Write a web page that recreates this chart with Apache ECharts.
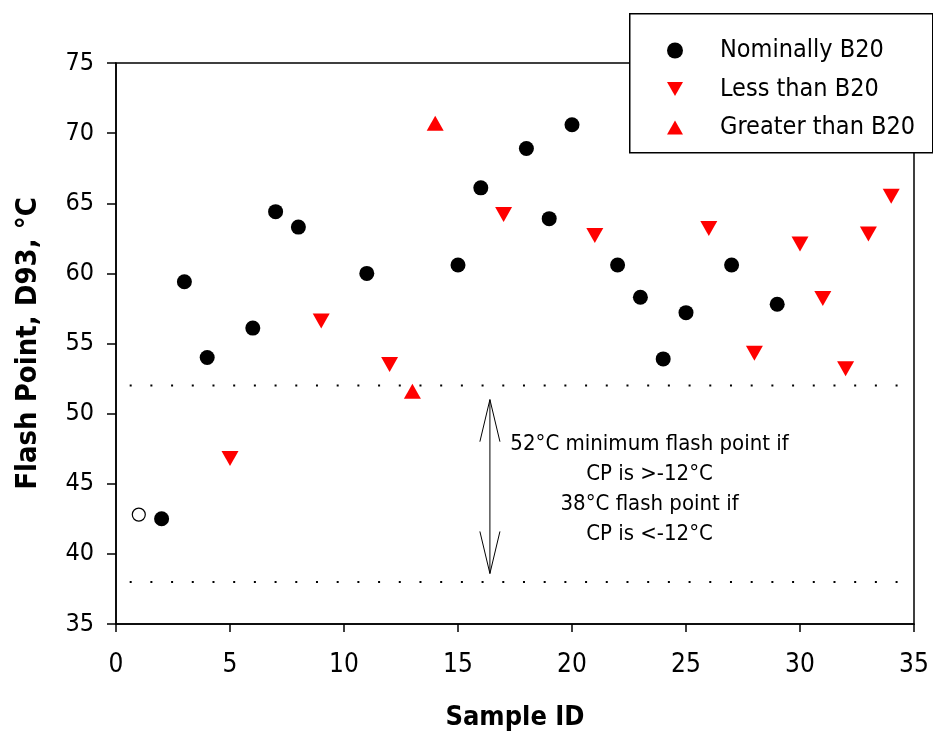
<!DOCTYPE html>
<html>
<head>
<meta charset="utf-8">
<script src="https://cdn.jsdelivr.net/npm/echarts@6/dist/echarts.min.js"></script>
<style>
html,body{margin:0;padding:0;background:#fff;}
#c{width:933px;height:733px;}
</style>
</head>
<body>
<div id="c"></div>
<script>
// ---- data ----
const nominalX = [2, 3, 4, 6, 7, 8, 11, 15, 16, 18, 19, 20, 22, 23, 24, 25, 27, 29];
const nominalY = [42.5, 59.4, 54.0, 56.1, 64.4, 63.3, 60.0, 60.6, 66.1, 68.9, 63.9, 70.6, 60.6, 58.3, 53.9, 57.2, 60.6, 57.8];
const lessX = [5, 9, 12, 17, 21, 26, 28, 30, 31, 32, 33, 34];
const lessY = [46.8, 56.6, 53.5, 64.2, 62.7, 63.2, 54.3, 62.1, 58.2, 53.2, 62.8, 65.5];
const greaterX = [13, 14];
const greaterY = [51.6, 70.7];
const openX = [1];
const openY = [42.8];
const limitValues = [52, 38];
const limitXRange = [0.6, 35];
const arrowX = 16.4;
const arrowTop = 51.0;
const arrowBottom = 38.6;
const arrowHeadLen = 3.0;
const arrowHeadHalfWidth = 0.44;
const noteAnchor = [23.4, 48.9];
const xTicks = [0, 5, 10, 15, 20, 25, 30, 35];
const yTicks = [35, 40, 45, 50, 55, 60, 65, 70, 75];
const seriesNames = ['Nominally B20', 'Less than B20', 'Greater than B20'];
const noteLines = ['52°C minimum flash point if', 'CP is >-12°C', '38°C flash point if', 'CP is <-12°C'];

const FONT = '"DejaVu Sans Condensed", "DejaVu Sans", sans-serif';
const zip = (xs, ys) => xs.map((x, i) => [x, ys[i]]);

const limitSeries = limitValues.map(v => ({
  type: 'line', silent: true, symbol: 'none', z: 1,
  data: [[limitXRange[0], v], [limitXRange[1], v]],
  lineStyle: { color: '#000', width: 2, type: [2, 18.7] }
}));
const arrowLines = [
  [[arrowX, arrowTop], [arrowX, arrowBottom]],
  [[arrowX - arrowHeadHalfWidth, arrowTop - arrowHeadLen], [arrowX, arrowTop], [arrowX + arrowHeadHalfWidth, arrowTop - arrowHeadLen]],
  [[arrowX - arrowHeadHalfWidth, arrowBottom + arrowHeadLen], [arrowX, arrowBottom], [arrowX + arrowHeadHalfWidth, arrowBottom + arrowHeadLen]]
];
const arrowSeries = arrowLines.map(d => ({
  type: 'line', silent: true, symbol: 'none', z: 1, data: d,
  lineStyle: { color: '#000', width: 1 }
}));

const downTri = 'path://M0,0 L17,0 L8.5,15 Z';
const upTri = 'path://M8.5,0 L17,15 L0,15 Z';

const chart = echarts.init(document.getElementById('c'), null, { renderer: 'canvas' });
const option = {
  animation: false,
  backgroundColor: '#fff',
  textStyle: { fontFamily: FONT },
  grid: { left: 116, right: 19, top: 63, bottom: 109, show: true, borderColor: '#000', borderWidth: 1.5,
    backgroundColor: 'transparent', containLabel: false, outerBoundsMode: 'none' },
  xAxis: {
    type: 'value', min: xTicks[0], max: xTicks[xTicks.length - 1], interval: 5,
    name: 'Sample ID', nameLocation: 'middle', nameGap: 80,
    nameTextStyle: { fontFamily: FONT, fontSize: 27, fontWeight: 'bold', color: '#000' },
    axisLine: { show: true, lineStyle: { color: '#000', width: 1.5 } },
    axisTick: { show: true, length: 8, lineStyle: { color: '#000', width: 1.5 } },
    axisLabel: { color: '#000', fontSize: 26, fontFamily: FONT, margin: 28 },
    splitLine: { show: false }
  },
  yAxis: {
    type: 'value', min: yTicks[0], max: yTicks[yTicks.length - 1], interval: 5,
    name: 'Flash Point, D93, °C', nameLocation: 'middle', nameGap: 73, nameRotate: 90,
    nameTextStyle: { fontFamily: FONT, fontSize: 29, fontWeight: 'bold', color: '#000' },
    axisLine: { show: true, lineStyle: { color: '#000', width: 1.5 } },
    axisTick: { show: true, length: 9, lineStyle: { color: '#000', width: 1.5 } },
    axisLabel: { color: '#000', fontSize: 25, fontFamily: FONT, margin: 22 },
    splitLine: { show: false }
  },
  legend: {
    orient: 'vertical', left: 667, top: 38, padding: 0, itemGap: 13.5,
    itemWidth: 16, itemHeight: 16,
    data: [
      { name: seriesNames[0], icon: 'circle' },
      { name: seriesNames[1], icon: downTri },
      { name: seriesNames[2], icon: upTri }
    ],
    textStyle: { fontFamily: FONT, fontSize: 25, color: '#000', lineHeight: 16, padding: [0, 0, 0, 32] },
    z: 10
  },
  graphic: [
    { type: 'rect', left: 629, top: 13, z: 5, shape: { width: 303, height: 139 },
      style: { fill: '#fff', stroke: '#000', lineWidth: 1.5 } }
  ],
  series: [
    { name: seriesNames[0], type: 'scatter', data: zip(nominalX, nominalY), symbol: 'circle', symbolSize: 15,
      itemStyle: { color: '#000', opacity: 1 }, z: 3 },
    { name: seriesNames[1], type: 'scatter', data: zip(lessX, lessY), symbol: downTri, symbolSize: [17, 15],
      itemStyle: { color: '#ff0000', opacity: 1 }, z: 3 },
    { name: seriesNames[2], type: 'scatter', data: zip(greaterX, greaterY), symbol: upTri, symbolSize: [17, 15],
      itemStyle: { color: '#ff0000', opacity: 1 }, z: 3 },
    { name: 'open', type: 'scatter', data: zip(openX, openY), symbol: 'circle', symbolSize: 13,
      itemStyle: { color: '#fff', borderColor: '#000', borderWidth: 1.2, opacity: 1 }, z: 3 },
    ...limitSeries,
    ...arrowSeries
  ]
};
chart.setOption(option);
const notePos = chart.convertToPixel({ gridIndex: 0 }, noteAnchor);
option.graphic.push({
  type: 'text', x: notePos[0], y: notePos[1], z: 5,
  style: { text: noteLines.join('\n'), fontSize: 22, fontFamily: FONT, fill: '#000', align: 'center', verticalAlign: 'top', lineHeight: 30 }
});
chart.setOption(option, true);
</script>
</body>
</html>
